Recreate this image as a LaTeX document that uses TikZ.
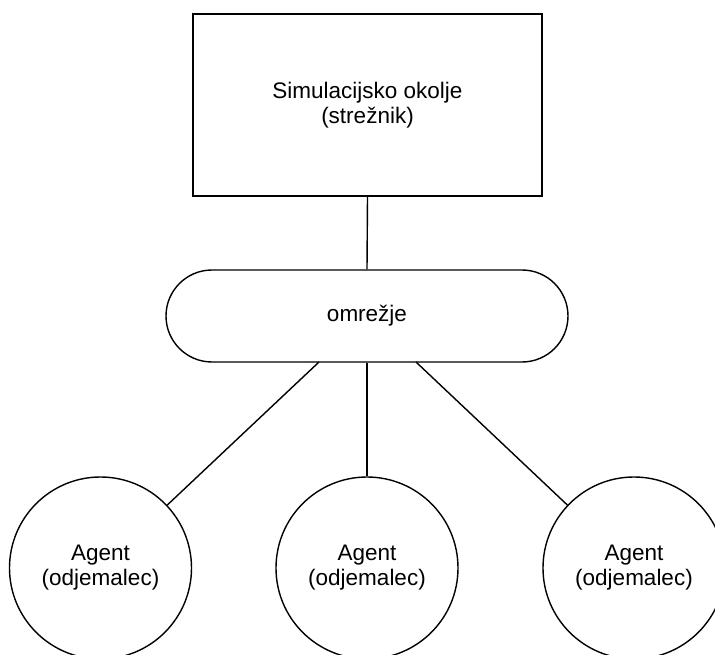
\documentclass[tikz,border=0pt]{standalone}
\usepackage{fontspec}
\setmainfont{Liberation Sans}
\usetikzlibrary{shapes.misc}
\begin{document}
\begin{tikzpicture}[x=1pt,y=1pt,
  every node/.style={font=\fontsize{22.5}{25}\selectfont, align=center, inner sep=0pt},
  conn/.style={draw, line width=1.4pt},
  serverbox/.style={draw, line width=1.4pt, rectangle, minimum width=349pt, minimum height=182pt},
  netbox/.style={draw, line width=1.4pt, rounded rectangle, minimum width=402pt, minimum height=92pt},
  agentnode/.style={draw, line width=1.4pt, circle, minimum size=182pt}]
  \useasboundingbox (0,0) rectangle (715,-655);

  % server, network and the three agents
  \node[serverbox] (server) at (367.5,-105) {Simulacijsko okolje\\(strežnik)};
  \node[netbox] (net) at (367,-316) {omrežje};
  \node[agentnode] (a1) at (100.5,-568) {Agent\\(odjemalec)};
  \node[agentnode] (a2) at (367,-568) {Agent\\(odjemalec)};
  \node[agentnode] (a3) at (634,-568) {Agent\\(odjemalec)};

  % attachment points on the lower edge of the network
  \coordinate (n1) at (319,-362);
  \coordinate (n3) at (416,-362);

  \draw[conn] (server.south) -- (net.north);
  \draw[conn] (n1) -- (a1);
  \draw[conn] (net.south) -- (a2.north);
  \draw[conn] (n3) -- (a3);
\end{tikzpicture}
\end{document}
